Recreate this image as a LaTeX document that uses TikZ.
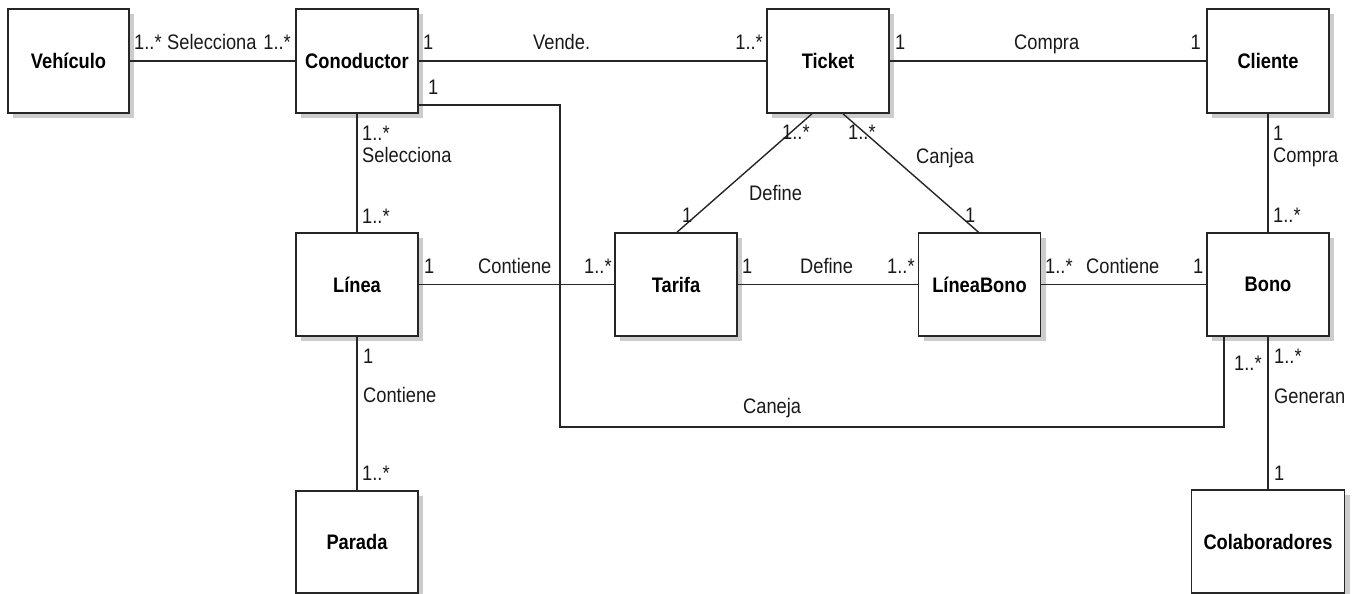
\documentclass[tikz,border=0pt]{standalone}
\usepackage{fontspec}
\setmainfont{Liberation Sans}[FakeStretch=0.87]
\usetikzlibrary{shadows,calc}

\begin{document}
\begin{tikzpicture}[x=1pt,y=-1pt,
  every node/.style={font=\fontsize{21}{25}\selectfont},
  cls/.style={draw=black!85, line width=1.6pt, fill=white, inner sep=0pt,
    minimum width=122pt, minimum height=103pt,
    font=\fontsize{21}{25}\selectfont\bfseries,
    drop shadow={shadow xshift=5pt, shadow yshift=-5pt, fill=black!20, opacity=1}},
  assoc/.style={draw=black!85, line width=1.4pt},
  lbl/.style={anchor=base west, inner sep=0pt, text=black!90},
  lblr/.style={anchor=base east, inner sep=0pt, text=black!90}]

\useasboundingbox (0,0) rectangle (1355,594);

% classes
\node[cls, minimum width=121pt, minimum height=104pt] (veh) at (68.5,61) {Vehículo};
\node[cls, minimum height=104pt] (con) at (357,61) {Conoductor};
\node[cls, minimum height=104pt] (tic) at (828,61) {Ticket};
\node[cls, minimum height=104pt] (cli) at (1268,61) {Cliente};
\node[cls] (lin) at (357,284.5) {Línea};
\node[cls] (tar) at (676,284.5) {Tarifa};
\node[cls] (lb) at (979.5,284.5) {LíneaBono};
\node[cls] (bono) at (1268,284.5) {Bono};
\node[cls, minimum height=102pt] (par) at (357,542) {Parada};
\node[cls, minimum width=153pt, minimum height=103pt] (col) at (1268,541.5) {Colaboradores};

% associations
\draw[assoc] (veh) -- (con);
\draw[assoc] (con) -- (tic);
\draw[assoc] (tic) -- (cli);
\draw[assoc] (con) -- (lin);
\draw[assoc] (cli) -- (bono);
\draw[assoc] (lin) -- (tar);
\draw[assoc] (tar) -- (lb);
\draw[assoc] (lb) -- (bono);
\draw[assoc] (lin) -- (par);
\draw[assoc] (bono) -- (col);
\draw[assoc] ($(tic.south)+(-16,0)$) -- ($(tar.north)+(1,0)$);
\draw[assoc] ($(tic.south)+(15,0)$) -- ($(lb.north)+(-1,0)$);
\coordinate (cj) at (560,427);
\draw[assoc] ($(con.south east)+(0,-9)$) -| (cj) -| ($(bono.south)+(-44,0)$);

% Vehículo - Conoductor
\node[lbl] (a1) at (134,50) {1..*};
\node[lbl] (a2) at (167,50) {Selecciona};
\node[lblr] (a3) at (291,50) {1..*};
% Conoductor - Ticket
\node[lbl] (b1) at (423,50) {1};
\node[lbl] (b2) at (533,50) {Vende.};
\node[lblr] (b3) at (763,50) {1..*};
% Ticket - Cliente
\node[lbl] (c1) at (895,50) {1};
\node[lbl] (c2) at (1014,50) {Compra};
\node[lblr] (c3) at (1201,50) {1};
% Conoductor - Bono
\node[lbl] (d1) at (428,95) {1};
\node[lbl] (d2) at (743,413) {Caneja};
\node[lbl] (d3) at (1234,370) {1..*};
% Conoductor - Línea
\node[lbl] (e1) at (362,140) {1..*};
\node[lbl] (e2) at (362,162) {Selecciona};
\node[lbl] (e3) at (362,223) {1..*};
% Cliente - Bono
\node[lbl] (f1) at (1273,140) {1};
\node[lbl] (f2) at (1273,162) {Compra};
\node[lbl] (f3) at (1273,222) {1..*};
% Ticket - Tarifa
\node[lbl] (g1) at (782,139) {1..*};
\node[lbl] (g2) at (749,200) {Define};
\node[lbl] (g3) at (682,222) {1};
% Ticket - LíneaBono
\node[lbl] (h1) at (848,139) {1..*};
\node[lbl] (h2) at (916,163) {Canjea};
\node[lbl] (h3) at (965,222) {1};
% Línea - Tarifa
\node[lbl] (i1) at (424,273) {1};
\node[lbl] (i2) at (478,273) {Contiene};
\node[lbl] (i3) at (584,273) {1..*};
% Tarifa - LíneaBono
\node[lbl] (j1) at (742,273) {1};
\node[lbl] (j2) at (800,273) {Define};
\node[lbl] (j3) at (887,273) {1..*};
% LíneaBono - Bono
\node[lbl] (k1) at (1045,273) {1..*};
\node[lbl] (k2) at (1086,273) {Contiene};
\node[lbl] (k3) at (1193,273) {1};
% Línea - Parada
\node[lbl] (m1) at (363,363) {1};
\node[lbl] (m2) at (363,402) {Contiene};
\node[lbl] (m3) at (362,480) {1..*};
% Bono - Colaboradores
\node[lbl] (n1) at (1274,363) {1..*};
\node[lbl] (n2) at (1274,403) {Generan};
\node[lbl] (n3) at (1274,480) {1};
\end{tikzpicture}
\end{document}
